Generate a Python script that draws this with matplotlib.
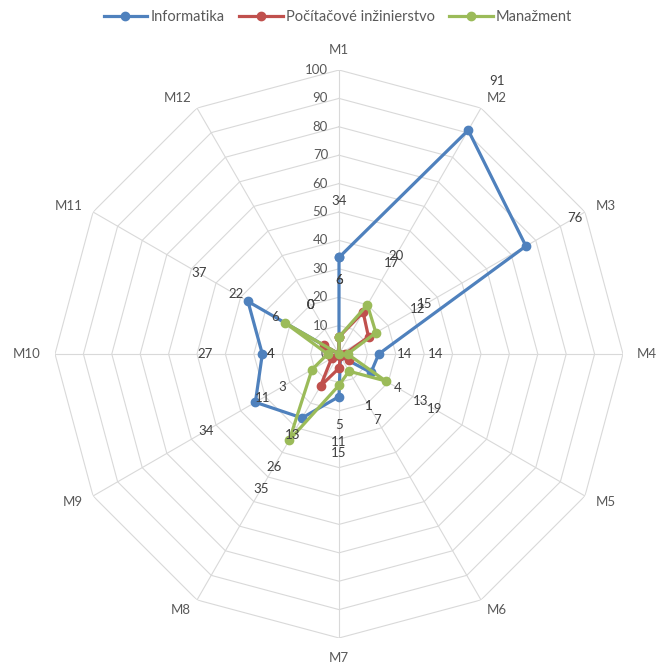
import numpy as np
import matplotlib
matplotlib.use("Agg")
import matplotlib.pyplot as plt
import matplotlib.transforms as mtransforms

plt.rcParams['font.family'] = ['Lato', 'DejaVu Sans']

categories = ["M1", "M2", "M3", "M4", "M5", "M6", "M7", "M8", "M9", "M10", "M11", "M12"]
informatika = [34, 91, 76, 14, 13, 1, 15, 26, 34, 27, 37, 0]
pocitacove = [6, 17, 12, 2, 4, 1, 5, 13, 3, 4, 6, 0]
manazment = [6, 20, 15, 3, 19, 7, 11, 35, 11, 4, 22, 0]
informatika_labels = ["34", "91", "76", "14", "13", "1", "15", "26", "34", "27", "37", "0"]
pocitacove_labels = ["6", "17", "12", "", "4", "1", "5", "13", "3", "4", "6", "0"]
manazment_labels = ["6", "20", "15", "14", "19", "7", "11", "35", "11", "4", "22", "0"]
series_names = ["Informatika", "Počítačové inžinierstvo", "Manažment"]
radial_ticks = [0, 10, 20, 30, 40, 50, 60, 70, 80, 90, 100]

colors = ["#4F81BD", "#C0504D", "#9BBB59"]
grid_color = "#D9D9D9"
text_color = "#595959"
label_color = "#404040"
LABEL_OFFSET = 20

W, H = 656, 668
fig = plt.figure(figsize=(W / 100, H / 100), dpi=100)
cx, cy, R = 339, 354, 284
ax = fig.add_axes([(cx - R) / W, (H - cy - R) / H, 2 * R / W, 2 * R / H], projection="polar")
ax.set_theta_zero_location("N")
ax.set_theta_direction(-1)
ax.set_ylim(0, 100)
ax.grid(False)
ax.spines["polar"].set_visible(False)
ax.set_xticks([])
ax.set_yticks([])
ax.patch.set_alpha(0)

n = len(categories)
theta = np.arange(n) * 2 * np.pi / n
theta_closed = np.append(theta, theta[0])

# polygon grid
for r in radial_ticks[1:]:
    ax.plot(theta_closed, [r] * (n + 1), color=grid_color, lw=0.8, zorder=1)
for t in theta:
    ax.plot([t, t], [0, 100], color=grid_color, lw=0.8, zorder=1)

# radial tick labels
offs = mtransforms.offset_copy(ax.transData, fig=fig, x=-11, y=0, units="dots")
for r in radial_ticks:
    ax.text(0, r, str(r), transform=offs, ha="right", va="center",
            fontsize=9.5, color=text_color, zorder=2)

# category labels, anchored outside the outer ring
for t, c in zip(theta, categories):
    s, co = np.sin(t), np.cos(t)
    ha = "left" if s > 0.1 else ("right" if s < -0.1 else "center")
    if co > 0.9:
        va, rr = "bottom", 104.8
    elif co < -0.9:
        va, rr = "top", 104.8
    else:
        va, rr = "center", 104.2
    if abs(s) > 0.9:
        rr = 105.0
    ax.text(t, rr, c, ha=ha, va=va, fontsize=9.5, color=text_color, clip_on=False)

all_vals = [informatika, pocitacove, manazment]
all_lbls = [informatika_labels, pocitacove_labels, manazment_labels]
handles = []
for i, (vals, name, col) in enumerate(zip(all_vals, series_names, colors)):
    v = np.append(vals, vals[0])
    h, = ax.plot(theta_closed, v, color=col, lw=2.3, marker="o", markersize=6,
                 label=name, zorder=3 + i, clip_on=False)
    handles.append(h)

for vals, lbls in zip(all_vals, all_lbls):
    for t, v, s in zip(theta, vals, lbls):
        if s:
            ax.text(t, v + LABEL_OFFSET, s, ha="center", va="center", fontsize=9.5,
                    color=label_color, zorder=10, clip_on=False)

fig.legend(handles=handles, loc="center", bbox_to_anchor=(0.515, 1 - 17 / H),
           ncol=3, frameon=False, fontsize=10.5, handlelength=3.0,
           columnspacing=1.0, handletextpad=0.2, labelcolor=text_color)

fig.savefig("out.png", dpi=100)
